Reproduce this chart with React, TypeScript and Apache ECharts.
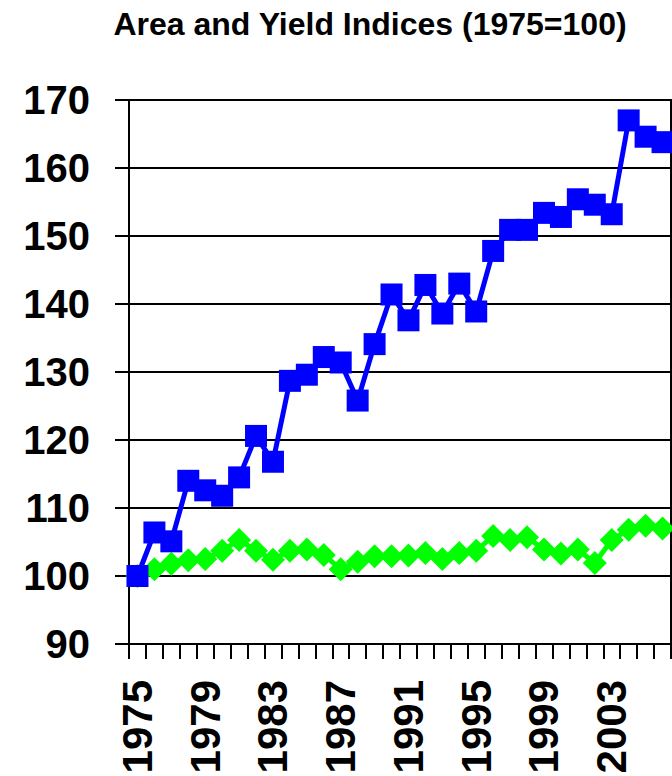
import React, { useEffect, useRef } from "react";
import * as echarts from "echarts";

const years = [
  "1975", "1976", "1977", "1978", "1979", "1980", "1981", "1982", "1983", "1984",
  "1985", "1986", "1987", "1988", "1989", "1990", "1991", "1992", "1993", "1994",
  "1995", "1996", "1997", "1998", "1999", "2000", "2001", "2002", "2003", "2004",
  "2005", "2006",
];

const yieldIndex = [
  100.0, 106.4, 105.1, 114.0, 112.6, 111.8, 114.5, 120.6, 116.8, 128.7,
  129.6, 132.2, 131.4, 125.8, 134.1, 141.4, 137.6, 142.8, 138.6, 143.0,
  138.9, 147.8, 150.9, 150.9, 153.4, 152.8, 155.4, 154.6, 153.2, 167.0,
  164.6, 163.8,
];

const areaIndex = [
  100.0, 101.0, 101.8, 102.3, 102.5, 103.7, 105.3, 103.7, 102.4, 103.7,
  103.9, 103.1, 101.0, 102.1, 102.9, 102.9, 103.0, 103.4, 102.5, 103.4,
  103.7, 105.9, 105.3, 105.7, 103.9, 103.3, 103.9, 101.9, 105.3, 106.8,
  107.4, 107.0,
];

const titleText = "Area and Yield Indices (1975=100)";
const yMin = 90;
const yMax = 170;
const yStep = 10;

const FONT = "'Liberation Sans', Arial, Helvetica, sans-serif";

export default function App() {
  const ref = useRef<HTMLDivElement>(null);

  useEffect(() => {
    document.body.style.margin = "0";
    if (!ref.current) return;
    const chart = echarts.init(ref.current, null, { renderer: "svg" });
    chart.setOption({
      animation: false,
      backgroundColor: "#ffffff",
      graphic: [
        {
          type: "text",
          x: 370,
          y: 24,
          style: {
            text: titleText,
            font: `bold 32px ${FONT}`,
            fill: "#000",
            textAlign: "center",
            textVerticalAlign: "middle",
          },
        },
      ],
      grid: {
        left: 129,
        top: 100,
        right: 1,
        bottom: 132,
        containLabel: false,
        outerBoundsMode: "none",
        show: true,
        borderColor: "#000",
        borderWidth: 2,
        backgroundColor: "transparent",
      },
      xAxis: {
        type: "category",
        data: years,
        boundaryGap: true,
        axisLine: { show: true, lineStyle: { color: "#000", width: 2 } },
        axisTick: {
          show: true,
          interval: 0,
          length: 15,
          inside: false,
          lineStyle: { color: "#000", width: 2 },
        },
        axisLabel: {
          interval: 3,
          rotate: 90,
          margin: 36,
          color: "#000",
          fontFamily: FONT,
          fontWeight: "bold",
          fontSize: 42,
        },
        splitLine: { show: false },
      },
      yAxis: {
        type: "value",
        min: yMin,
        max: yMax,
        interval: yStep,
        axisLine: { show: true, lineStyle: { color: "#000", width: 2 } },
        axisTick: {
          show: true,
          length: 14,
          inside: false,
          lineStyle: { color: "#000", width: 2 },
        },
        axisLabel: {
          margin: 39,
          color: "#000",
          fontFamily: FONT,
          fontWeight: "bold",
          fontSize: 40,
        },
        splitLine: { show: true, lineStyle: { color: "#000", width: 2 } },
      },
      series: [
        {
          name: "Area",
          type: "line",
          data: areaIndex,
          symbol: "diamond",
          symbolSize: 24,
          showSymbol: true,
          showAllSymbol: true,
          clip: false,
          lineStyle: { color: "#00ff00", width: 5 },
          itemStyle: { color: "#00ff00" },
          z: 2,
        },
        {
          name: "Yield",
          type: "line",
          data: yieldIndex,
          symbol: "rect",
          symbolSize: 22,
          showSymbol: true,
          showAllSymbol: true,
          clip: false,
          lineStyle: { color: "#0000ff", width: 5 },
          itemStyle: { color: "#0000ff" },
          z: 3,
        },
      ],
    });
    return () => chart.dispose();
  }, []);

  return <div ref={ref} style={{ width: 672, height: 776 }} />;
}
